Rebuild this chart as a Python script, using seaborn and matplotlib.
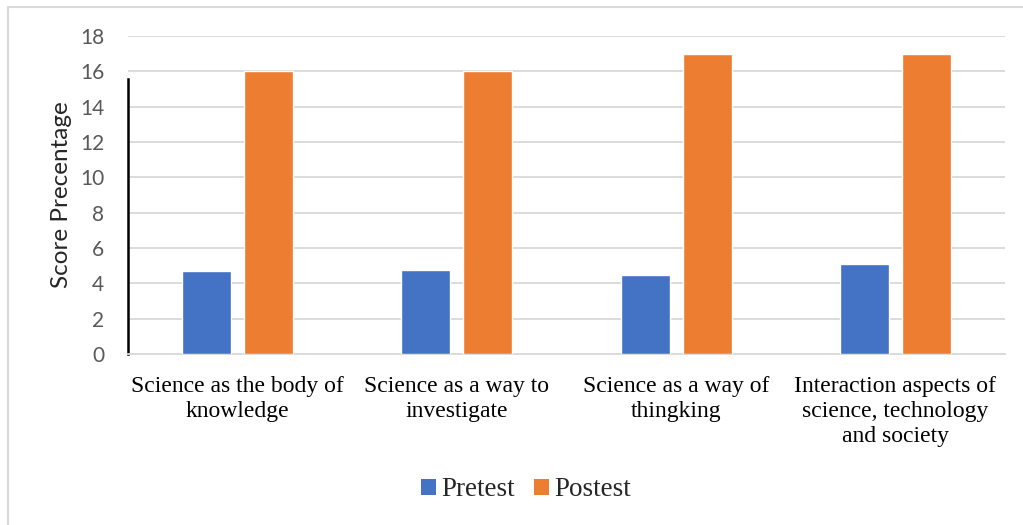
import matplotlib
matplotlib.use("Agg")
import matplotlib.pyplot as plt
from matplotlib.lines import Line2D
from matplotlib.patches import Patch
import seaborn as sns
import pandas as pd

categories = [
    "Science as the body of\nknowledge",
    "Science as a way to\ninvestigate",
    "Science as a way of\nthingking",
    "Interaction aspects of\nscience, technology\nand society",
]
pretest = [4.7, 4.75, 4.5, 5.1]
postest = [16, 16, 17, 17]
series = ["Pretest", "Postest"]
colors = ["#4472C4", "#ED7D31"]
yticks = [0, 2, 4, 6, 8, 10, 12, 14, 16, 18]

df = pd.DataFrame({
    "category": categories * 2,
    "score": pretest + postest,
    "test": [series[0]] * 4 + [series[1]] * 4,
})

sns.set_style("white")
W, H = 1023, 525
fig = plt.figure(figsize=(W / 100, H / 100), dpi=100)
ax = fig.add_axes([128 / W, 1 - 354 / H, (1005 - 128) / W, (354 - 36) / H])

sns.barplot(data=df, x="category", y="score", hue="test", hue_order=series,
            palette=colors, width=0.566, gap=0.21, saturation=1, ax=ax,
            legend=False, zorder=3)

ax.set_xlim(-0.5, 3.5)
ax.set_ylim(0, 18)
ax.set_yticks(yticks)
ax.set_yticklabels([str(v) for v in yticks], fontsize=15, color="#595959",
                   family="Lato")
ax.tick_params(axis="y", length=0, pad=17)
ax.tick_params(axis="x", length=0, pad=16)
for lab in ax.get_xticklabels():
    lab.set_fontfamily("Liberation Serif")
    lab.set_fontsize(17)
    lab.set_linespacing(1.23)
    lab.set_color("black")
    lab.set_verticalalignment("top")

ax.grid(axis="y", color="#d9d9d9", linewidth=1.3, zorder=0)
ax.set_axisbelow(True)
ax.set_xlabel("")
ax.set_ylabel("Score Precentage", fontsize=17.5, family="Lato", labelpad=6)

for s in ["top", "right"]:
    ax.spines[s].set_visible(False)
ax.spines["bottom"].set_color("#d9d9d9")
ax.spines["bottom"].set_linewidth(1.3)
ax.spines["left"].set_color("black")
ax.spines["left"].set_linewidth(1.8)
ax.spines["left"].set_bounds(0, 15.55)

handles = [Patch(facecolor=c, edgecolor="none") for c in colors]
fig.legend(handles, series, loc="center", bbox_to_anchor=(526 / W, 1 - 490 / H),
           ncol=2, frameon=False, prop={"family": "Liberation Serif", "size": 19.5},
           handlelength=0.55, handleheight=0.55, handletextpad=0.2,
           columnspacing=0.72)

# outer chart frame
fig.add_artist(Line2D([7.5 / W, 1], [1 - 6.5 / H, 1 - 6.5 / H],
                      transform=fig.transFigure, color="#d9d9d9", linewidth=1.5))
fig.add_artist(Line2D([7.5 / W, 7.5 / W], [0, 1 - 6.5 / H],
                      transform=fig.transFigure, color="#d9d9d9", linewidth=1.5))

fig.savefig("out.png", dpi=100, facecolor="white")
